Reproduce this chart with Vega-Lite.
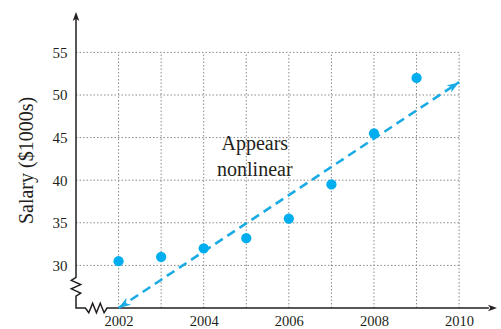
{
  "$schema": "https://vega.github.io/schema/vega-lite/v6.json",
  "width": 421,
  "height": 296,
  "autosize": {"type": "none"},
  "padding": {"left": 76, "top": 12, "right": 4, "bottom": 21},
  "background": "white",
  "config": {
    "view": {"stroke": null},
    "font": "Liberation Serif",
    "axis": {"labelFont": "Liberation Serif", "titleFont": "Liberation Serif", "labelColor": "#231f20", "titleColor": "#231f20", "titleFontWeight": "normal"}
  },
  "datasets": {
    "salary": [
      {"year": 2002, "salary": 30.5},
      {"year": 2003, "salary": 31.0},
      {"year": 2004, "salary": 32.0},
      {"year": 2005, "salary": 33.2},
      {"year": 2006, "salary": 35.5},
      {"year": 2007, "salary": 39.5},
      {"year": 2008, "salary": 45.5},
      {"year": 2009, "salary": 52.0}
    ],
    "gridX": [
      {"year": 2002}, {"year": 2003}, {"year": 2004}, {"year": 2005}, {"year": 2006},
      {"year": 2007}, {"year": 2008}, {"year": 2009}, {"year": 2010}
    ],
    "gridY": [
      {"salary": 30}, {"salary": 35}, {"salary": 40}, {"salary": 45}, {"salary": 50}, {"salary": 55}
    ],
    "axes": [
      {"i": 0, "year": 2001.0, "salary": 59.3},
      {"i": 1, "year": 2001.0, "salary": 28.6},
      {"i": 2, "year": 2000.89, "salary": 28.25},
      {"i": 3, "year": 2001.11, "salary": 27.75},
      {"i": 4, "year": 2000.89, "salary": 27.25},
      {"i": 5, "year": 2001.11, "salary": 26.75},
      {"i": 6, "year": 2001.0, "salary": 26.4},
      {"i": 7, "year": 2001.0, "salary": 25.0},
      {"i": 8, "year": 2001.22, "salary": 25.0},
      {"i": 9, "year": 2001.3, "salary": 24.45},
      {"i": 10, "year": 2001.39, "salary": 25.55},
      {"i": 11, "year": 2001.48, "salary": 24.45},
      {"i": 12, "year": 2001.57, "salary": 25.55},
      {"i": 13, "year": 2001.66, "salary": 24.45},
      {"i": 14, "year": 2001.73, "salary": 25.0},
      {"i": 15, "year": 2010.7, "salary": 25.0}
    ],
    "axisHeads": [
      {"year": 2001.0, "salary": 59.74, "angle": 0},
      {"year": 2010.89, "salary": 25.0, "angle": 90}
    ],
    "trend": [
      {"year": 2002, "salary": 25.0},
      {"year": 2010, "salary": 51.5}
    ],
    "trendHeads": [
      {"year": 2002, "salary": 25.0, "angle": 236.5},
      {"year": 2010, "salary": 51.5, "angle": 56.5}
    ],
    "note": [
      {"year": 2005.2, "salary": 43.6, "text": ["Appears", "nonlinear"]}
    ]
  },
  "layer": [
    {
      "data": {"name": "gridX"},
      "mark": {"type": "rule", "color": "#8a8a8a", "strokeWidth": 1, "strokeDash": [1.5, 2]},
      "encoding": {
        "x": {"field": "year", "type": "quantitative",
              "scale": {"domain": [2001, 2010.89], "nice": false, "zero": false},
              "axis": {"values": [2002, 2004, 2006, 2008, 2010], "format": "d", "domain": false, "ticks": false, "grid": false,
                       "labelFont": "Liberation Serif", "labelFontSize": 14.5, "labelPadding": 6, "title": null}},
        "y": {"datum": 25, "type": "quantitative",
              "scale": {"domain": [25, 59.74], "nice": false, "zero": false},
              "axis": {"values": [30, 35, 40, 45, 50, 55], "domain": false, "ticks": false, "grid": false,
                       "labelFont": "Liberation Serif", "labelFontSize": 15, "labelPadding": 9,
                       "title": "Salary ($1000s)", "titleFont": "Liberation Serif", "titleFontSize": 20, "titlePadding": 16}},
        "y2": {"datum": 55}
      }
    },
    {
      "data": {"name": "gridY"},
      "mark": {"type": "rule", "color": "#8a8a8a", "strokeWidth": 1, "strokeDash": [1.5, 2]},
      "encoding": {
        "y": {"field": "salary", "type": "quantitative"},
        "x": {"datum": 2001},
        "x2": {"datum": 2010}
      }
    },
    {
      "data": {"name": "axes"},
      "mark": {"type": "line", "color": "#231f20", "strokeWidth": 1.5, "strokeJoin": "miter"},
      "encoding": {
        "x": {"field": "year", "type": "quantitative"},
        "y": {"field": "salary", "type": "quantitative"},
        "order": {"field": "i", "type": "quantitative"}
      }
    },
    {
      "data": {"name": "axisHeads"},
      "mark": {"type": "point", "shape": "M0,0L0.7,1.9L0,1.4L-0.7,1.9Z", "filled": true, "color": "#231f20", "opacity": 1, "size": 90},
      "encoding": {
        "x": {"field": "year", "type": "quantitative"},
        "y": {"field": "salary", "type": "quantitative"},
        "angle": {"field": "angle", "type": "quantitative", "scale": null}
      }
    },
    {
      "data": {"name": "trend"},
      "mark": {"type": "line", "color": "#1aabe4", "strokeWidth": 2.6, "strokeDash": [9, 5.5]},
      "encoding": {
        "x": {"field": "year", "type": "quantitative"},
        "y": {"field": "salary", "type": "quantitative"}
      }
    },
    {
      "data": {"name": "trendHeads"},
      "mark": {"type": "point", "shape": "M0,0L0.65,1.9L0,1.35L-0.65,1.9Z", "filled": true, "color": "#1aabe4", "opacity": 1, "size": 169},
      "encoding": {
        "x": {"field": "year", "type": "quantitative"},
        "y": {"field": "salary", "type": "quantitative"},
        "angle": {"field": "angle", "type": "quantitative", "scale": null}
      }
    },
    {
      "data": {"name": "salary"},
      "mark": {"type": "circle", "color": "#00aeef", "opacity": 1, "size": 105},
      "encoding": {
        "x": {"field": "year", "type": "quantitative"},
        "y": {"field": "salary", "type": "quantitative"}
      }
    },
    {
      "data": {"name": "note"},
      "mark": {"type": "text", "font": "Liberation Serif", "fontSize": 20, "color": "#231f20", "align": "center", "baseline": "alphabetic", "lineHeight": 26},
      "encoding": {
        "x": {"field": "year", "type": "quantitative"},
        "y": {"field": "salary", "type": "quantitative"},
        "text": {"field": "text"}
      }
    }
  ]
}
